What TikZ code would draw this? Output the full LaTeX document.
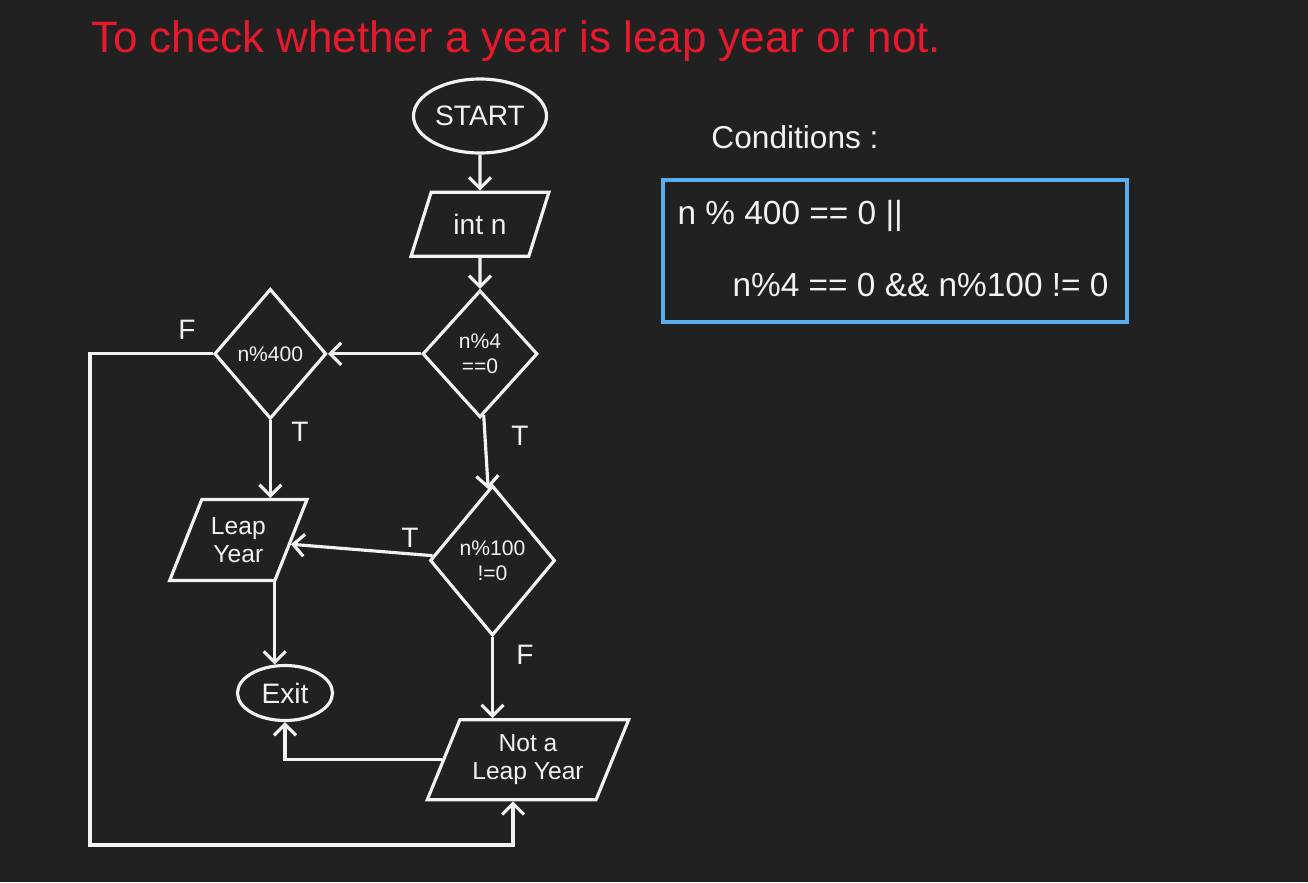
\documentclass[tikz,border=0pt]{standalone}
\usepackage{fontspec}
\setmainfont{Liberation Sans}
\usepackage{xcolor}
\usetikzlibrary{positioning, arrows.meta, shapes.geometric}

\definecolor{quadro}{HTML}{212121}
\definecolor{giz}{HTML}{F2F2F2}
\definecolor{caneta}{HTML}{E8192C}
\definecolor{azul}{HTML}{5AAEF0}

\begin{document}
\begin{tikzpicture}[
  traco/.style = {draw=giz, line width=1.8pt, text=giz},
  oval/.style = {traco, ellipse, inner sep=0pt, font=\fontsize{16}{18}\selectfont},
  dado/.style = {traco, trapezium, trapezium left angle=62, trapezium right angle=118, trapezium stretches=true, inner sep=0pt, align=center, font=\fontsize{14}{16}\selectfont},
  teste/.style = {traco, diamond, inner sep=0pt, align=center, font=\fontsize{12}{14}\selectfont},
  rotulo/.style = {text=giz, font=\fontsize{16}{18}\selectfont},
  seta/.style = {draw=giz, line width=1.8pt, -{Straight Barb[length=2.2mm, width=4.4mm]}},
]
\fill[quadro] (0,0) rectangle (26.16,-17.64);
\useasboundingbox (0,0) rectangle (26.16,-17.64);
\node[anchor=west, text=caneta, font=\fontsize{25}{30}\selectfont] (titulo) at (1.7,-0.82) {To check whether a year is leap year or not.};
\node[oval, minimum width=2.66cm, minimum height=1.48cm] (s) at (9.6,-2.32) {START};
\node[dado, minimum width=2.76cm, minimum height=1.28cm, below=0.72cm of s, font=\fontsize{16}{18}\selectfont] (n) {int n};
\node[teste, minimum width=2.3cm, minimum height=2.54cm, below=0.62cm of n] (q4) {n\%4\\==0};
\node[teste, minimum width=2.24cm, minimum height=2.6cm, left=1.86cm of q4] (q400) {n\%400};
\node[teste, minimum width=2.5cm, minimum height=3cm, below=1.3cm of q4, xshift=0.25cm] (q100) {n\%100\\!=0};
\node[dado, minimum width=2.76cm, minimum height=1.62cm, below=1.55cm of q400, xshift=-0.64cm] (sim) {Leap\\Year};
\node[oval, minimum width=1.9cm, minimum height=1.1cm] (fim) at (5.7,-13.86) {Exit};
\node[dado, minimum width=4.06cm, minimum height=1.6cm, below=1.62cm of q100, xshift=0.71cm] (nao) {Not a\\Leap Year};
\coordinate (volta) at (1.8,-16.9);
\node[rotulo] (f1) at (3.74,-6.6) {F};
\node[rotulo] (t1) at (6.0,-8.64) {T};
\node[rotulo] (t2) at (10.4,-8.72) {T};
\node[rotulo] (t3) at (8.2,-10.76) {T};
\node[rotulo] (f2) at (10.5,-13.1) {F};
\draw[seta] (s) -- (n); \draw[seta] (n) -- (q4);
\draw[seta] (q4) -- (q400); \draw[seta] (q4) -- (q100);
\draw[seta] (q400.south) -- (q400.south |- sim.north);
\draw[seta] (q100) -- (sim);
\draw[seta] (sim.south -| fim.110) -- (fim.110);
\draw[seta] (q100) -- (q100 |- nao.north);
\draw[seta] (nao.west) -| (fim.south);
\draw[seta] (q400.west) -| (volta) -| ([xshift=-0.3cm]nao.south);
\node[text=giz, font=\fontsize{18}{22}\selectfont] (cond) at (15.9,-2.74) {Conditions :};
\node[draw=azul, line width=1.8pt, minimum width=9.28cm, minimum height=2.84cm] (caixa) at (17.9,-5.02) {};
\node[anchor=west, text=giz, font=\fontsize{19}{23}\selectfont] (r1) at ([shift={(0.2,-0.76)}]caixa.north west) {n \% 400 == 0 ||};
\node[anchor=west, text=giz, font=\fontsize{19}{23}\selectfont] (r2) at ([shift={(1.3,-2.14)}]caixa.north west) {n\%4 == 0 \&\& n\%100 != 0};
\end{tikzpicture}
\end{document}
